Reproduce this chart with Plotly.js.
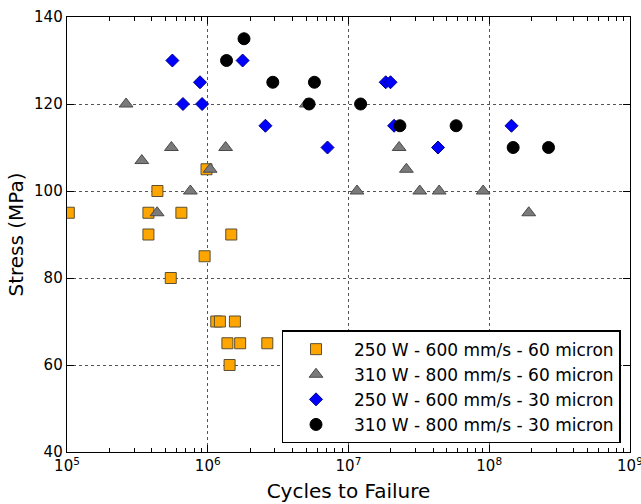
<!DOCTYPE html>
<html><head><meta charset="utf-8">
<script src="https://cdn.plot.ly/plotly-3.0.1.min.js"></script>
<style>html,body{margin:0;padding:0;background:#fff}#chart{width:641px;height:504px}</style>
</head><body><div id="chart"></div>
<script>
// 250 W - 600 mm/s - 60 micron
const sqCycles = [1.03e5, 3.79e5, 4.39e5, 6.5e5, 3.79e5, 1.47e6, 0.98e6, 0.95e6, 5.46e5, 1.15e6, 1.22e6, 1.56e6, 1.38e6, 1.70e6, 2.65e6, 1.43e6];
const sqStress = [95, 95, 100, 95, 90, 90, 105, 85, 80, 70, 70, 70, 65, 65, 65, 60];
// 310 W - 800 mm/s - 60 micron
const trCycles = [2.63e5, 3.40e5, 5.52e5, 1.34e6, 1.04e6, 7.53e5, 4.37e5, 5.02e6, 1.15e7, 2.29e7, 2.58e7, 3.21e7, 4.41e7, 9.06e7, 1.91e8];
const trStress = [120, 107, 110, 110, 105, 100, 95, 120, 100, 110, 105, 100, 100, 100, 95];
// 250 W - 600 mm/s - 30 micron
const diCycles = [5.61e5, 8.81e5, 6.67e5, 9.12e5, 1.77e6, 2.57e6, 7.10e6, 1.84e7, 1.99e7, 2.11e7, 4.33e7, 1.44e8];
const diStress = [130, 125, 120, 120, 130, 115, 110, 125, 125, 115, 110, 115];
// 310 W - 800 mm/s - 30 micron
const ciCycles = [1.81e6, 1.36e6, 2.90e6, 5.73e6, 5.25e6, 1.22e7, 2.32e7, 5.82e7, 1.48e8, 2.64e8];
const ciStress = [135, 130, 125, 125, 120, 120, 115, 115, 110, 110];

const seriesNames = ['250 W - 600 mm/s - 60 micron', '310 W - 800 mm/s - 60 micron', '250 W - 600 mm/s - 30 micron', '310 W - 800 mm/s - 30 micron'];
const xTickVals = [1e5, 1e6, 1e7, 1e8, 1e9];
const xTickText = ['10<sup>5</sup>', '10<sup>6</sup>', '10<sup>7</sup>', '10<sup>8</sup>', '10<sup>9</sup>'];
const yTickVals = [40, 60, 80, 100, 120, 140];

const F = 'DejaVu Sans, sans-serif';
function tr(x, y, name, sym, size, fill, line, g) {
  return {x: x, y: y, name: name, type: 'scatter', mode: 'markers', legendgroup: g,
    marker: {symbol: sym, size: size, color: fill, line: {color: line, width: 1}}};
}
const data = [
  tr(sqCycles, sqStress, seriesNames[0], 'square', 11, '#FFA500', '#5c5030', 'a'),
  tr(trCycles, trStress, seriesNames[1], 'triangle-up', 12, '#7a7a7a', '#4a4a4a', 'b'),
  tr(diCycles, diStress, seriesNames[2], 'diamond', 10, '#0000FF', '#00008b', 'c'),
  tr(ciCycles, ciStress, seriesNames[3], 'circle', 12, '#000000', '#000000', 'd')
];
const axisCommon = {showline: true, linecolor: '#000', linewidth: 1.3, mirror: 'ticks', ticks: 'inside', ticklen: 7, tickcolor: '#000',
  showgrid: true, gridcolor: '#555', griddash: 'dot', gridwidth: 1, zeroline: false, tickfont: {family: F, size: 15, color: '#000'}};
const layout = {
  width: 641, height: 504, margin: {l: 67, r: 11, t: 17, b: 52},
  paper_bgcolor: '#fff', plot_bgcolor: '#fff', font: {family: F, color: '#000'},
  xaxis: Object.assign({}, axisCommon, {type: 'log', range: [5, 9.0005], tickvals: xTickVals, ticktext: xTickText, ticklabeloverflow: 'allow',
    minor: {ticks: 'inside', ticklen: 4, tickcolor: '#000', dtick: 'D1', showgrid: false},
    title: {text: 'Cycles to Failure', font: {family: F, size: 20}, standoff: 9}}),
  yaxis: Object.assign({}, axisCommon, {range: [40, 140], tickvals: yTickVals,
    title: {text: 'Stress (MPa)', font: {family: F, size: 20}, standoff: 5}}),
  legend: {x: 0.9835, y: 0.02, xanchor: 'right', yanchor: 'bottom', bgcolor: '#fff', bordercolor: '#000', borderwidth: 1.3,
    font: {family: F, size: 17, color: '#000'}, itemwidth: 66, indentation: -5, traceorder: 'grouped', tracegroupgap: 0},
  showlegend: true
};
Plotly.newPlot('chart', data, layout, {staticPlot: true});
</script></body></html>
